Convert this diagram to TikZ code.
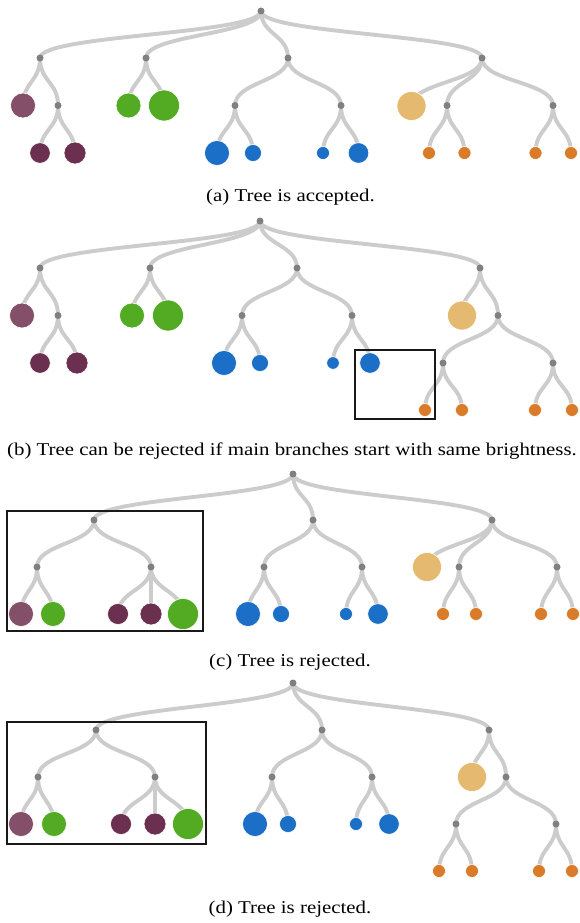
\documentclass[tikz,border=0pt]{standalone}
\usepackage{fontspec}
\usepackage{graphicx}
\setmainfont{Liberation Serif}
\usetikzlibrary{calc}
\pgfdeclarelayer{background}
\pgfsetlayers{background,main}
\definecolor{edgec}{RGB}{204,204,204}
\definecolor{dotc}{RGB}{128,128,128}
\definecolor{purL}{RGB}{131,79,105}
\definecolor{purD}{RGB}{107,48,80}
\definecolor{grn}{RGB}{82,171,34}
\definecolor{blu}{RGB}{27,111,198}
\definecolor{tan}{RGB}{229,185,111}
\definecolor{org}{RGB}{218,123,41}
\tikzset{
  dotst/.style={circle, inner sep=0pt, minimum size=7pt, fill=dotc},
  leaf/.style 2 args={circle, inner sep=0pt, fill=#1, draw=white, line width=0.6pt, minimum size=2*#2pt},
  edge/.style={draw=edgec, line width=3.9pt, to path={let \p1=(\tikztostart), \p2=(\tikztotarget) in .. controls (\x1,{0.5*(\y1+\y2)}) and (\x2,{0.5*(\y1+\y2)}) .. (\tikztotarget)}},
  selbox/.style={draw=black!90, line width=1.3pt},
  capst/.style={anchor=base, inner sep=0pt, font=\fontsize{18}{20}\selectfont}
}
\newcommand\mkdot[3]{\node[dotst] (#1) at (#2,#3) {};}
\newcommand\mkleaf[5]{\node[leaf={#4}{#5}] (#1) at (#2,#3) {};}
\newcommand\lnk[2]{\draw[edge] (#1.center) to (#2.center);}
\begin{document}
\begin{tikzpicture}[x=1pt,y=-1pt]
\useasboundingbox (0,0) rectangle (580,923);
% ---------------- panel (a)
\mkdot{aR}{261}{11}
\mkdot{a1}{40}{58}\mkdot{a2}{146}{58}\mkdot{a3}{288}{58}\mkdot{a4}{482}{58}
\mkleaf{aP}{23}{105.5}{purL}{12.5}\mkdot{a11}{58}{105.5}
\mkleaf{aD1}{40}{153}{purD}{10.3}\mkleaf{aD2}{75}{153}{purD}{11}
\mkleaf{aG1}{128.5}{105.5}{grn}{12.5}\mkleaf{aG2}{164}{105.5}{grn}{15.5}
\mkdot{a31}{235}{105.5}\mkdot{a32}{341}{105.5}
\mkleaf{aB1}{217}{153}{blu}{12.5}\mkleaf{aB2}{253}{153}{blu}{8.5}
\mkleaf{aB3}{323}{153}{blu}{6.5}\mkleaf{aB4}{358.5}{153}{blu}{10.3}
\mkleaf{aT}{411.5}{106}{tan}{14.5}\mkdot{a42}{447}{105.5}\mkdot{a43}{553}{105.5}
\mkleaf{aO1}{429}{153}{org}{6.5}\mkleaf{aO2}{464.5}{153}{org}{6.5}
\mkleaf{aO3}{535.5}{153}{org}{6.5}\mkleaf{aO4}{571}{153}{org}{6.5}
% ---------------- panel (b)
\mkdot{bR}{260}{221}
\mkdot{b1}{40}{268}\mkdot{b2}{150}{268}\mkdot{b3}{297}{268}\mkdot{b4}{480}{268}
\mkleaf{bP}{22}{315.5}{purL}{12.5}\mkdot{b11}{58}{315.5}
\mkleaf{bD1}{40}{363}{purD}{10.3}\mkleaf{bD2}{77}{363}{purD}{11}
\mkleaf{bG1}{132}{315.5}{grn}{12.5}\mkleaf{bG2}{168}{315.5}{grn}{15.5}
\mkdot{b31}{242}{315.5}\mkdot{b32}{352}{315.5}
\mkleaf{bB1}{224}{363}{blu}{12.5}\mkleaf{bB2}{260}{363}{blu}{8.5}
\mkleaf{bB3}{333}{363}{blu}{6.3}\mkleaf{bB4}{370}{363}{blu}{10.3}
\mkleaf{bT}{462}{315.5}{tan}{14.5}\mkdot{b41}{498}{315.5}
\mkdot{b411}{443}{363}\mkdot{b412}{553}{363}
\mkleaf{bO1}{425}{410}{org}{6.5}\mkleaf{bO2}{462}{410}{org}{6.5}
\mkleaf{bO3}{535}{410}{org}{6.5}\mkleaf{bO4}{572}{410}{org}{6.5}
\node[selbox, inner sep=0pt, minimum width=80pt, minimum height=69pt] (bbox) at (395,384.5) {};
% ---------------- panel (c)
\mkdot{cR}{293}{474}
\mkdot{c1}{94}{520}\mkdot{c2}{313}{520}\mkdot{c3}{492}{520}
\mkdot{c11}{37}{567}\mkdot{c12}{151}{567}
\mkleaf{cP}{21}{614}{purL}{12.5}\mkleaf{cG1}{53}{614}{grn}{12.5}
\mkleaf{cD1}{118}{614}{purD}{10.5}\mkleaf{cD2}{151}{614}{purD}{11}\mkleaf{cG2}{183}{614}{grn}{15.5}
\mkdot{c21}{264}{567}\mkdot{c22}{362}{567}
\mkleaf{cB1}{248}{614}{blu}{12.5}\mkleaf{cB2}{281}{614}{blu}{8.5}
\mkleaf{cB3}{346}{614}{blu}{6.5}\mkleaf{cB4}{378}{614}{blu}{10.3}
\mkleaf{cT}{427}{567}{tan}{14.5}\mkdot{c32}{459}{567}\mkdot{c33}{557}{567}
\mkleaf{cO1}{443}{614}{org}{6.5}\mkleaf{cO2}{476}{614}{org}{6.5}
\mkleaf{cO3}{541}{614}{org}{6.5}\mkleaf{cO4}{573}{614}{org}{6.5}
\node[selbox, inner sep=0pt, minimum width=196pt, minimum height=120pt] (cbox) at (105,571) {};
% ---------------- panel (d)
\mkdot{dR}{293}{683}
\mkdot{d1}{96}{730}\mkdot{d2}{322}{730}\mkdot{d3}{489}{730}
\mkdot{d11}{38}{777}\mkdot{d12}{155}{777}
\mkleaf{dP}{21}{824}{purL}{12.5}\mkleaf{dG1}{54}{824}{grn}{12.5}
\mkleaf{dD1}{121}{824}{purD}{10.5}\mkleaf{dD2}{155}{824}{purD}{11}\mkleaf{dG2}{188}{824}{grn}{15.5}
\mkdot{d21}{272}{777}\mkdot{d22}{372}{777}
\mkleaf{dB1}{255}{824}{blu}{12.5}\mkleaf{dB2}{288}{824}{blu}{8.5}
\mkleaf{dB3}{356}{824}{blu}{6.5}\mkleaf{dB4}{389}{824}{blu}{10.3}
\mkleaf{dT}{472}{777}{tan}{14.5}\mkdot{d31}{506}{777}
\mkdot{d311}{456}{824}\mkdot{d312}{556}{824}
\mkleaf{dO1}{439}{871}{org}{6.5}\mkleaf{dO2}{472}{871}{org}{6.5}
\mkleaf{dO3}{539}{871}{org}{6.5}\mkleaf{dO4}{572}{871}{org}{6.5}
\node[selbox, inner sep=0pt, minimum width=199pt, minimum height=122pt] (dbox) at (106.5,783) {};
% ---------------- captions
\node[capst] (capa) at (290.5,201) {\scalebox{1.16}[1]{(a) Tree is accepted.}};
\node[capst] (capb) at (292,455) {\scalebox{1.16}[1]{(b) Tree can be rejected if main branches start with same brightness.}};
\node[capst] (capc) at (290,666) {\scalebox{1.16}[1]{(c) Tree is rejected.}};
\node[capst] (capd) at (290,913) {\scalebox{1.16}[1]{(d) Tree is rejected.}};
% ---------------- edges
\begin{pgfonlayer}{background}
% (a)
\lnk{aR}{a1}\lnk{aR}{a2}\lnk{aR}{a3}\lnk{aR}{a4}
\lnk{a1}{aP}\lnk{a1}{a11}\lnk{a11}{aD1}\lnk{a11}{aD2}
\lnk{a2}{aG1}\lnk{a2}{aG2}
\lnk{a3}{a31}\lnk{a3}{a32}
\lnk{a31}{aB1}\lnk{a31}{aB2}\lnk{a32}{aB3}\lnk{a32}{aB4}
\lnk{a4}{aT}\lnk{a4}{a42}\lnk{a4}{a43}
\lnk{a42}{aO1}\lnk{a42}{aO2}\lnk{a43}{aO3}\lnk{a43}{aO4}
% (b)
\lnk{bR}{b1}\lnk{bR}{b2}\lnk{bR}{b3}\lnk{bR}{b4}
\lnk{b1}{bP}\lnk{b1}{b11}\lnk{b11}{bD1}\lnk{b11}{bD2}
\lnk{b2}{bG1}\lnk{b2}{bG2}
\lnk{b3}{b31}\lnk{b3}{b32}
\lnk{b31}{bB1}\lnk{b31}{bB2}\lnk{b32}{bB3}\lnk{b32}{bB4}
\lnk{b4}{bT}\lnk{b4}{b41}
\lnk{b41}{b411}\lnk{b41}{b412}
\lnk{b411}{bO1}\lnk{b411}{bO2}\lnk{b412}{bO3}\lnk{b412}{bO4}
% (c)
\lnk{cR}{c1}\lnk{cR}{c2}\lnk{cR}{c3}
\lnk{c1}{c11}\lnk{c1}{c12}
\lnk{c11}{cP}\lnk{c11}{cG1}
\lnk{c12}{cD1}\lnk{c12}{cD2}\lnk{c12}{cG2}
\lnk{c2}{c21}\lnk{c2}{c22}
\lnk{c21}{cB1}\lnk{c21}{cB2}\lnk{c22}{cB3}\lnk{c22}{cB4}
\lnk{c3}{cT}\lnk{c3}{c32}\lnk{c3}{c33}
\lnk{c32}{cO1}\lnk{c32}{cO2}\lnk{c33}{cO3}\lnk{c33}{cO4}
% (d)
\lnk{dR}{d1}\lnk{dR}{d2}\lnk{dR}{d3}
\lnk{d1}{d11}\lnk{d1}{d12}
\lnk{d11}{dP}\lnk{d11}{dG1}
\lnk{d12}{dD1}\lnk{d12}{dD2}\lnk{d12}{dG2}
\lnk{d2}{d21}\lnk{d2}{d22}
\lnk{d21}{dB1}\lnk{d21}{dB2}\lnk{d22}{dB3}\lnk{d22}{dB4}
\lnk{d3}{dT}\lnk{d3}{d31}
\lnk{d31}{d311}\lnk{d31}{d312}
\lnk{d311}{dO1}\lnk{d311}{dO2}\lnk{d312}{dO3}\lnk{d312}{dO4}
\end{pgfonlayer}
\end{tikzpicture}
\end{document}
